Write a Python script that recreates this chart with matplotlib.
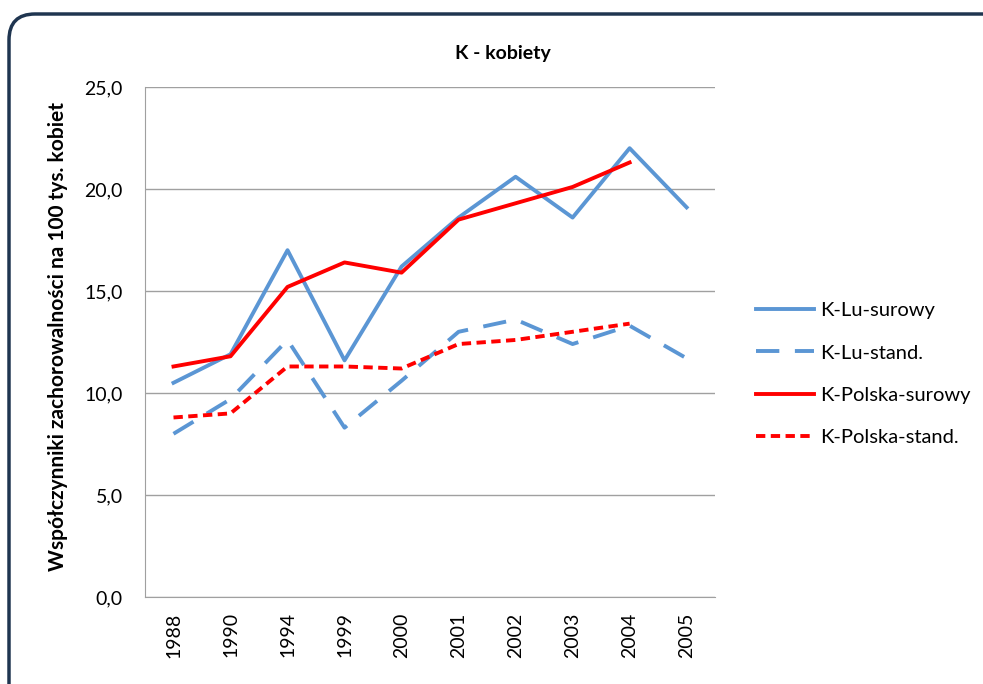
import matplotlib.pyplot as plt
from matplotlib.patches import FancyBboxPatch
from matplotlib.ticker import FuncFormatter

plt.rcParams['font.family'] = ['Lato', 'DejaVu Sans']

years = ['1988', '1990', '1994', '1999', '2000', '2001', '2002', '2003', '2004', '2005']
lu_surowy = [10.5, 11.9, 17.0, 11.6, 16.2, 18.6, 20.6, 18.6, 22.0, 19.1]
lu_stand = [8.0, 9.7, 12.6, 8.3, 10.6, 13.0, 13.6, 12.4, 13.3, 11.7]
pl_surowy = [11.3, 11.8, 15.2, 16.4, 15.9, 18.5, 19.3, 20.1, 21.3]
pl_stand = [8.8, 9.0, 11.3, 11.3, 11.2, 12.4, 12.6, 13.0, 13.4]

blue = '#5b96d4'
red = '#ff0000'

fig = plt.figure(figsize=(9.83, 6.84), dpi=100)

# rounded frame around the chart, in pixels; runs off the bottom/right edge like the original
frame = FancyBboxPatch((9, -40), 1000, 684 - 14 + 40, boxstyle='round,pad=0,rounding_size=26',
                       transform=None, fill=False, edgecolor='#1f3550', linewidth=2.5, clip_on=True)
fig.patches.append(frame)

ax = fig.add_axes([0.1475, 0.1272, 0.58, 0.7456])
x = range(len(years))

ax.plot(x, lu_surowy, color=blue, lw=2.8, label='K-Lu-surowy')
ax.plot(x, lu_stand, color=blue, lw=2.8, dashes=(6, 4), label='K-Lu-stand.')
ax.plot(range(len(pl_surowy)), pl_surowy, color=red, lw=2.8, label='K-Polska-surowy')
ax.plot(range(len(pl_stand)), pl_stand, color=red, lw=2.8, dashes=(2.4, 1.4), label='K-Polska-stand.')

ax.set_xlim(-0.5, len(years) - 0.5)
ax.set_ylim(0, 25)
ax.set_yticks([0, 5, 10, 15, 20, 25])
ax.yaxis.set_major_formatter(FuncFormatter(lambda v, p: f'{v:.1f}'.replace('.', ',')))
ax.set_xticks(list(x))
ax.set_xticklabels(years, rotation=90, fontsize=14)
ax.tick_params(axis='y', labelsize=14, length=0, pad=16)
ax.tick_params(axis='x', length=0, pad=11)
ax.grid(axis='y', color='#a0a0a0', lw=1)
ax.set_axisbelow(True)
for s in ['top', 'right']:
    ax.spines[s].set_visible(False)
ax.spines['left'].set_color('#a0a0a0')
ax.spines['bottom'].set_color('#a0a0a0')

fig.text(0.512, 0.922, 'K - kobiety', fontsize=14, fontweight='bold', ha='center', va='center')
ax.set_ylabel('Współczynniki zachorowalności na 100 tys. kobiet', fontsize=15,
              fontweight='bold')
ax.yaxis.set_label_coords(-0.135, 0.51)

ax.legend(loc='center left', bbox_to_anchor=(1.04, 0.437), frameon=False, fontsize=14.5,
          handlelength=2.9, handletextpad=0.3, labelspacing=1.25)

fig.savefig('out.png', dpi=100)
